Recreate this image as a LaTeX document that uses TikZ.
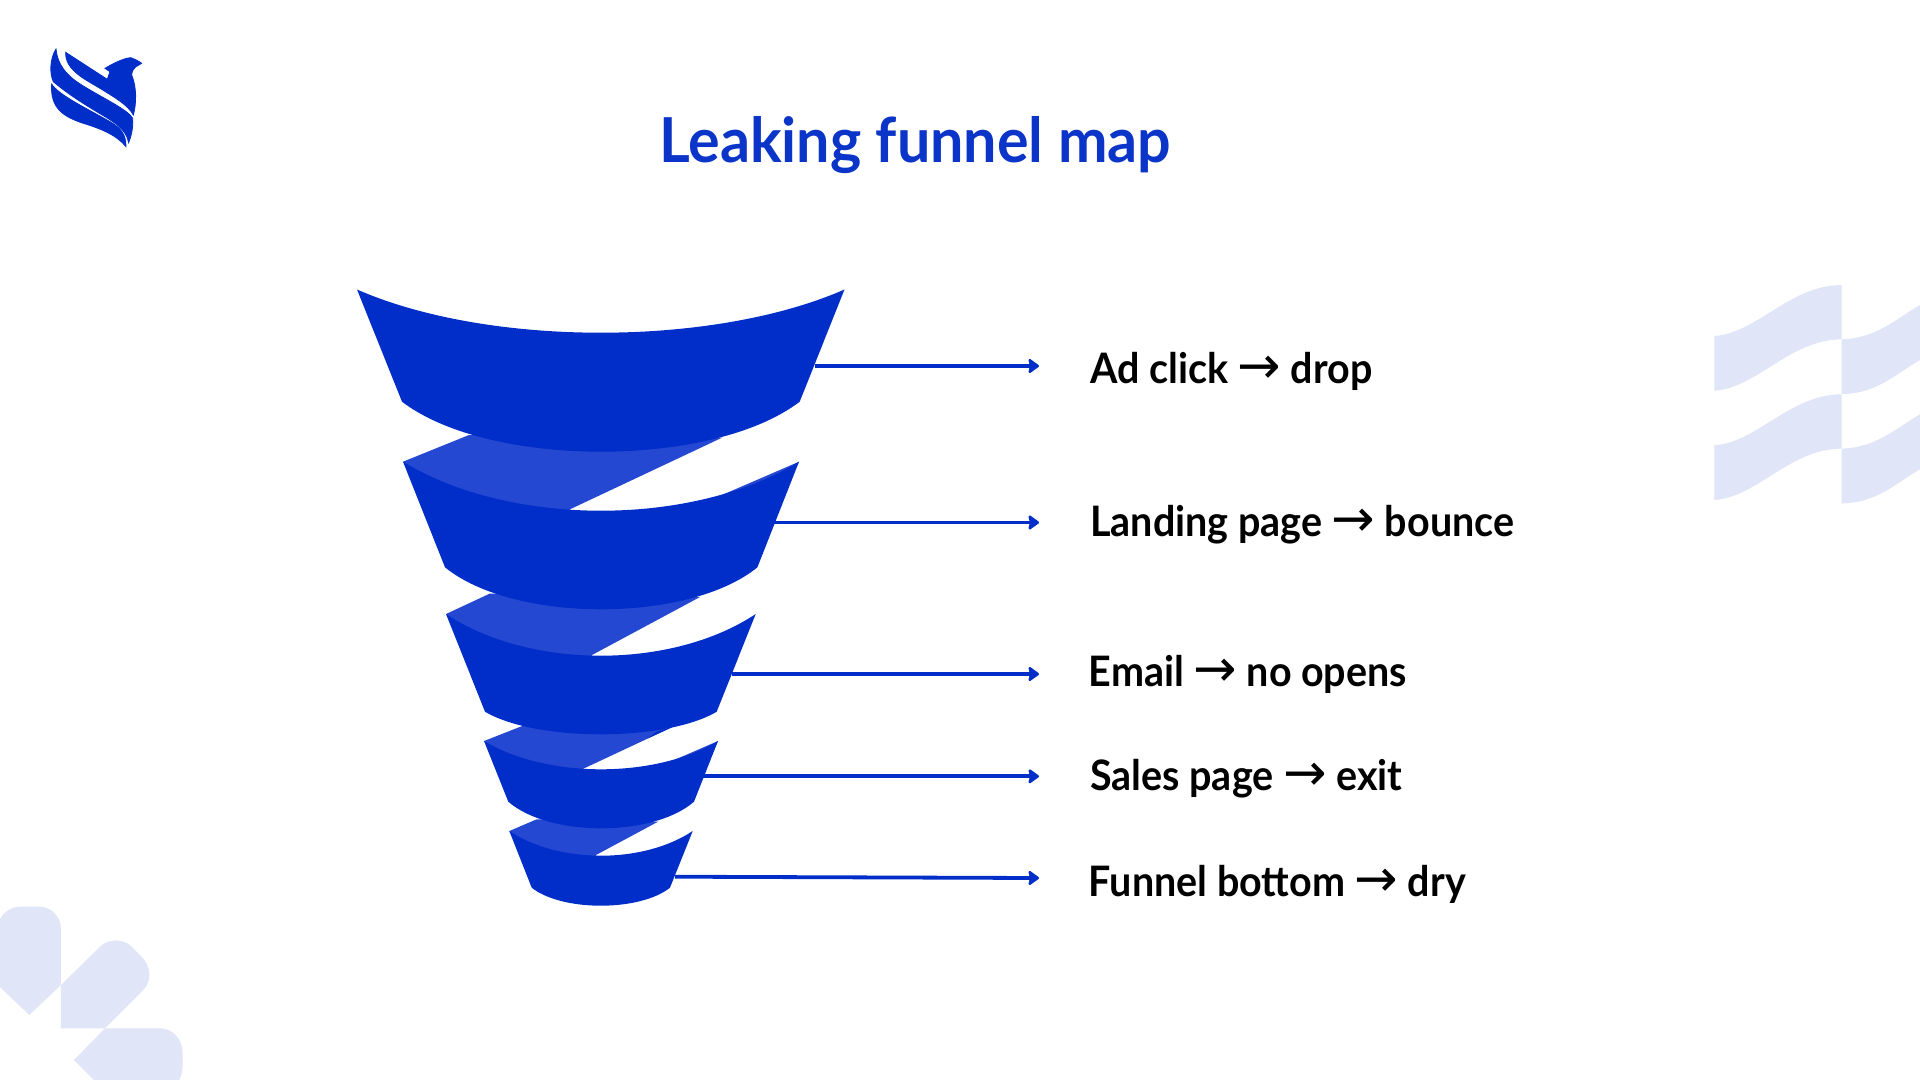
\documentclass[tikz,border=0pt]{standalone}
\usepackage{fontspec}
\setmainfont{Lato}[FakeStretch=0.94]
\newfontfamily\titlefont{Lato}[FakeStretch=0.955]
\newfontfamily\arrowfont{DejaVu Sans}
\usetikzlibrary{arrows.meta}
\definecolor{funnelblue}{HTML}{012EC8}
\definecolor{ribbonblue}{HTML}{2548D2}
\definecolor{softblue}{HTML}{E0E5F8}
\definecolor{titleblue}{HTML}{0B35C8}
\newcommand{\toarrow}{{\fontsize{52}{50}\arrowfont\mdseries →}}
\tikzset{
x=1pt, y=-1pt, % picture is laid out in reference pixels, y going down
funnelband/.style={fill=funnelblue}, % the solid part of each level
ribbonband/.style={fill=ribbonblue}, % the lighter leak between levels
softshape/.style={fill=softblue}, % pale decoration at the edges
logopart/.style={fill=funnelblue, draw=funnelblue, line width=0.8pt}, % bird feathers
leakarrow/.style={draw=funnelblue, line width=3.8pt, -{Stealth[length=12pt, width=17pt, inset=2pt, round]}},
labeltext/.style={anchor=base west, inner sep=0pt, font=\fontsize{42}{50}\selectfont\bfseries},
titletext/.style={anchor=base west, inner sep=0pt, text=titleblue, font=\titlefont\fontsize{62}{70}\selectfont\bfseries},
}
\begin{document}
\begin{tikzpicture}
    \useasboundingbox (0,0) rectangle (1920,1080);
    % logo
    \begin{scope}[shift={(0,20)}, x=0.3333pt, y=-0.3333pt]
        \path[logopart] (155,192) .. controls (175,225) and (260,265) .. (330,305) .. controls (365,325) and (378,345) .. (378,380) .. controls (350,345) and (300,325) .. (250,310) .. controls (190,290) and (150,265) .. (155,192) -- cycle;
        \path[logopart] (168,87) .. controls (172,130) and (195,165) .. (250,198) .. controls (310,235) and (385,270) .. (398,295) .. controls (400,320) and (395,345) .. (386,368) .. controls (378,325) and (340,305) .. (290,275) .. controls (240,245) and (195,215) .. (160,185) .. controls (148,160) and (150,115) .. (168,87) -- cycle;
        \path[logopart] (197,97) -- (322,178) -- (330,155) -- (315,145) .. controls (340,130) and (370,115) .. (392,113) .. controls (405,118) and (415,122) .. (425,130) .. controls (415,138) and (398,138) .. (395,165) .. controls (410,200) and (410,250) .. (400,285) .. controls (385,255) and (340,230) .. (300,205) .. controls (255,178) and (195,150) .. (197,97) -- cycle;
    \end{scope}
    % decoration, right
    \foreach \dy in {0,109.3} {
        \begin{scope}[shift={(1690,270+\dy)}, x=0.3333pt, y=-0.3333pt]
            \fill[softshape] (73,198) .. controls (200,190) and (300,45) .. (455,45) -- (455,208) .. controls (300,208) and (200,355) .. (73,362) -- cycle;
            \fill[softshape] (455,208) .. controls (560,205) and (620,145) .. (690,105) -- (690,270) .. controls (620,310) and (560,372) .. (455,372) -- cycle;
        \end{scope}
    }
    % decoration, bottom left
    \begin{scope}[shift={(0,890)}, x=0.3333pt, y=-0.3333pt]
        \fill[softshape] (-7,285) -- (-7,115) .. controls (-7,80) and (25,50) .. (60,50) -- (118,50) .. controls (155,50) and (183,80) .. (183,118) -- (183,285) -- (88,375) -- cycle;
        \fill[softshape] (183,285) -- (300,170) .. controls (325,145) and (370,145) .. (395,170) -- (425,200) .. controls (455,230) and (455,275) .. (430,300) -- (315,415) -- (183,415) -- cycle;
        \fill[softshape] (315,415) -- (480,415) .. controls (520,415) and (548,450) .. (548,490) -- (548,520) .. controls (548,540) and (545,555) .. (538,570) -- (282,570) -- (222,510) -- cycle;
    \end{scope}
    % leak ribbons, behind the levels
    \fill[ribbonband] (403,461.7) -- (469,435) -- (722,437.7) -- (570,509.3) -- (570,540) -- (433,500) -- cycle;
    \fill[ribbonband] (700,504.5) -- (799,461.7) -- (775,510) -- (700,525) -- cycle;
    \fill[ribbonband] (446,614) -- (490,593.5) -- (700,597) -- (592,655) -- (592,680) -- (476,652) -- cycle;
    \fill[ribbonband] (484,741) -- (523,725.7) -- (673,726.7) -- (582.7,769) -- (582.7,785) -- (505,770) -- cycle;
    \fill[funnelband] (648,738.3) -- (673.3,726.7) -- (656.7,731.7) -- cycle;
    \fill[ribbonband] (666.7,763.3) -- (718,741) -- (705,770) -- (666.7,775) -- cycle;
    \fill[ribbonband] (509.3,831) -- (536.7,819.3) -- (658,821.7) -- (596,855) -- (596,870) -- (525,855) -- cycle;
    % funnel levels: top left/right, top y, top lowest y, bottom left/right, bottom y, lowest y
    \foreach \tl/\tr/\ty/\tlow/\bl/\br/\by/\blow in {
        357/844.5/289.5/332.7/402/799.7/401.7/451.7,
        403/799/461.7/510.7/445/757.4/567.3/609.3,
        446/755.7/614/655.7/485/716.7/711.7/734.3,
        484/718/741/769.3/508.3/694/801.7/828.3,
        509.3/692.7/831/855.7/531.7/670/887.7/905.7} {
        \fill[funnelband] (\tl,\ty)
            .. controls ({\tl+0.27*(\tr-\tl)},{\ty+4/3*(\tlow-\ty)}) and ({\tr-0.27*(\tr-\tl)},{\ty+4/3*(\tlow-\ty)}) .. (\tr,\ty)
            -- (\br,\by)
            .. controls ({\br-0.22*(\br-\bl)},{\by+4/3*(\blow-\by)}) and ({\bl+0.22*(\br-\bl)},{\by+4/3*(\blow-\by)}) .. (\bl,\by)
            -- cycle;
    }
    % texts
    \node[titletext] (title) at (659,162) {Leaking funnel map};
    \node[labeltext] (lab1) at (1090,383.5) {Ad click \toarrow{} drop};
    \node[labeltext] (lab2) at (1090,536) {Landing page \toarrow{} bounce};
    \node[labeltext] (lab3) at (1088.6,686) {Email \toarrow{} no opens};
    \node[labeltext] (lab4) at (1090,790) {Sales page \toarrow{} exit};
    \node[labeltext] (lab5) at (1088.6,896.5) {Funnel bottom \toarrow{} dry};
    % connectors
    \coordinate (lev1) at (814.5,366);
    \coordinate (lev2) at (774,522.5);
    \coordinate (lev3) at (731.7,674);
    \coordinate (lev4) at (703,776.3);
    \coordinate (lev5) at (675,876.7);
    \coordinate (tip1) at (1039,366);
    \coordinate (tip2) at (1039,522.5);
    \coordinate (tip3) at (1039,674);
    \coordinate (tip4) at (1039,776.3);
    \coordinate (tip5) at (1039,878);
    \draw[leakarrow] (lev1) -- (tip1);
    \draw[leakarrow] (lev2) -- (tip2);
    \draw[leakarrow] (lev3) -- (tip3);
    \draw[leakarrow] (lev4) -- (tip4);
    \draw[leakarrow] (lev5) -- (tip5);
\end{tikzpicture}
\end{document}
